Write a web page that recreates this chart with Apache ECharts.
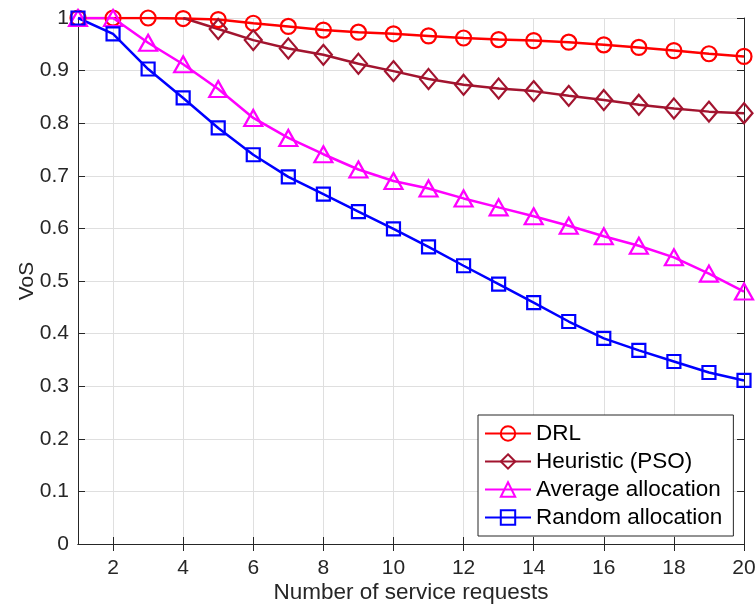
<!DOCTYPE html>
<html>
<head>
<meta charset="utf-8">
<script src="https://cdn.jsdelivr.net/npm/echarts@6/dist/echarts.min.js"></script>
<style>html,body{margin:0;padding:0;background:#fff}#c{width:756px;height:606px}</style>
</head>
<body>
<div id="c"></div>
<script>
var categories = [1,2,3,4,5,6,7,8,9,10,11,12,13,14,15,16,17,18,19,20];
var drl =       [1.000,1.000,1.000,0.999,0.997,0.990,0.984,0.977,0.973,0.970,0.966,0.962,0.959,0.957,0.954,0.949,0.944,0.938,0.932,0.927];
var heuristic = [null,null,null,1.000,0.979,0.958,0.942,0.930,0.913,0.899,0.884,0.873,0.866,0.861,0.852,0.844,0.835,0.828,0.822,0.819];
var average =   [1.000,1.000,0.953,0.912,0.865,0.810,0.772,0.741,0.712,0.690,0.676,0.657,0.640,0.623,0.605,0.585,0.567,0.545,0.514,0.480];
var randomAl =  [1.000,0.970,0.903,0.848,0.791,0.740,0.698,0.665,0.632,0.599,0.565,0.529,0.494,0.459,0.423,0.391,0.368,0.347,0.326,0.311];
var yTicks = [0,0.1,0.2,0.3,0.4,0.5,0.6,0.7,0.8,0.9,1];

var font = '"Liberation Sans", Arial, Helvetica, sans-serif';
var txt = '#262626';
var evenIdx = function (i) { return i % 2 === 1; };

function mk(name, data, color, symbol, size, firstMarker) {
  var d = data.map(function (v, i) {
    return (firstMarker && i < firstMarker) ? { value: v, symbol: 'none' } : v;
  });
  return {
    name: name, type: 'line', data: d, xAxisIndex: 0, yAxisIndex: 0,
    symbol: symbol, symbolSize: size, showSymbol: true, connectNulls: false,
    lineStyle: { color: color, width: 2.5 },
    itemStyle: { color: 'rgba(0,0,0,0)', borderColor: color, borderWidth: 2.2 },
    emphasis: { disabled: true },
    animation: false
  };
}

var chart = echarts.init(document.getElementById('c'));
chart.setOption({
  backgroundColor: '#fff',
  animation: false,
  grid: { left: 78, right: 12, top: 18, bottom: 62, containLabel: false, outerBoundsMode: 'none' },
  legend: {
    orient: 'vertical', left: 478, top: 415,
    backgroundColor: '#fff', borderColor: txt, borderWidth: 1,
    padding: [7, 11, 7, 6], itemGap: 5, itemWidth: 46, itemHeight: 18,
    textStyle: { fontFamily: font, fontSize: 22.5, color: '#000' },
    data: ['DRL', 'Heuristic (PSO)', 'Average allocation', 'Random allocation']
  },
  xAxis: [{
    type: 'category', data: categories, boundaryGap: false, position: 'bottom',
    name: 'Number of service requests', nameLocation: 'middle', nameGap: 37, nameMoveOverlap: false,
    nameTextStyle: { fontFamily: font, fontSize: 22.5, color: txt },
    axisLine: { show: true, lineStyle: { color: txt, width: 1 } },
    axisTick: { show: true, inside: true, length: 7, interval: evenIdx, lineStyle: { color: txt } },
    axisLabel: { interval: evenIdx, fontFamily: font, fontSize: 21, color: txt, margin: 14 },
    splitLine: { show: true, interval: evenIdx, lineStyle: { color: '#dfdfdf', width: 1 } }
  }, {
    type: 'category', data: categories, boundaryGap: false, position: 'top',
    axisLine: { show: true, lineStyle: { color: txt, width: 1 } },
    axisTick: { show: true, inside: true, length: 7, interval: evenIdx, lineStyle: { color: txt } },
    axisLabel: { show: false }, splitLine: { show: false }
  }],
  yAxis: [{
    type: 'value', min: 0, max: 1, interval: 0.1, position: 'left',
    name: 'VoS', nameLocation: 'middle', nameGap: 40, nameRotate: 90, nameMoveOverlap: false,
    nameTextStyle: { fontFamily: font, fontSize: 21, color: txt },
    axisLine: { show: true, lineStyle: { color: txt, width: 1 } },
    axisTick: { show: true, inside: true, length: 7, lineStyle: { color: txt } },
    axisLabel: { fontFamily: font, fontSize: 21, color: txt, margin: 9,
      formatter: function (v) { return String(Math.round(v * 10) / 10); } },
    splitLine: { show: true, lineStyle: { color: '#dfdfdf', width: 1 } }
  }, {
    type: 'value', min: 0, max: 1, interval: 0.1, position: 'right',
    axisLine: { show: true, lineStyle: { color: txt, width: 1 } },
    axisTick: { show: true, inside: true, length: 7, lineStyle: { color: txt } },
    axisLabel: { show: false }, splitLine: { show: false }
  }],
  series: [
    mk('DRL', drl, '#ff0000', 'circle', 15),
    mk('Heuristic (PSO)', heuristic, '#a2142f', 'diamond', [17, 20], 4),
    mk('Average allocation', average, '#ff00ff', 'triangle', [18, 16]),
    mk('Random allocation', randomAl, '#0000ff', 'rect', 13)
  ]
});
</script>
</body>
</html>
